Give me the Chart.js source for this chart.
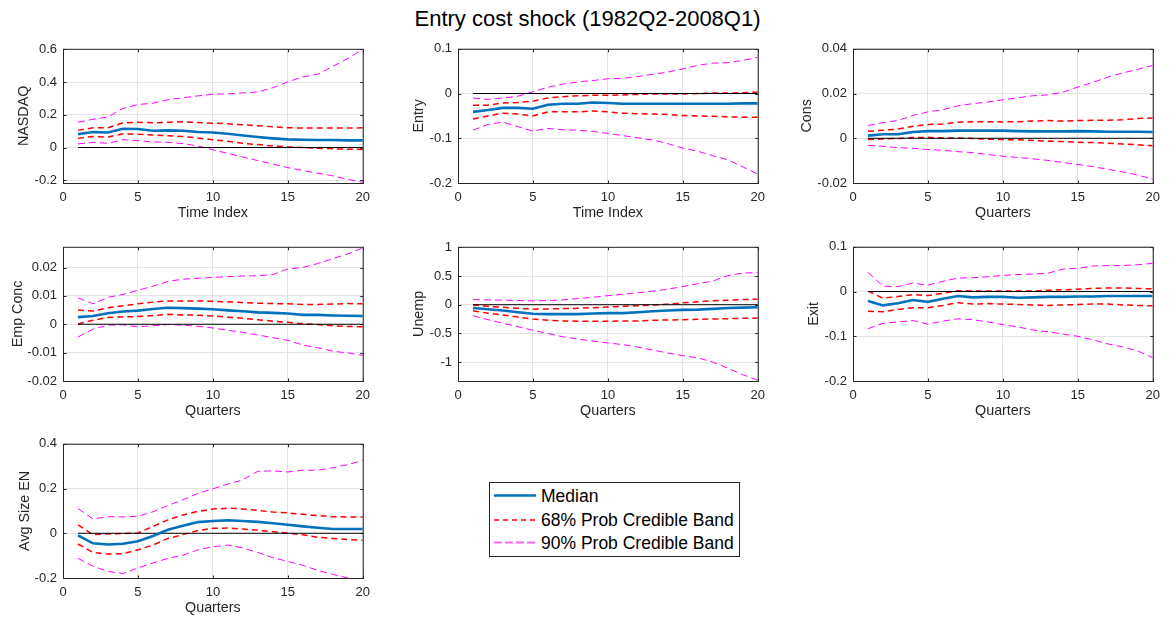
<!DOCTYPE html>
<html>
<head>
<meta charset="utf-8">
<script src="https://cdn.jsdelivr.net/npm/chart.js@4/dist/chart.umd.min.js"></script>
<style>
  html, body { margin: 0; padding: 0; background: #fff; }
  body { width: 1171px; height: 622px; position: relative; overflow: hidden; font-family: "Liberation Sans", Arial, Helvetica, sans-serif; }
  #title { position: absolute; left: 0; width: 1175px; top: 6px; text-align: center; font-size: 22px; line-height: 26px; color: #000; }
  canvas { position: absolute; }
  #legend { position: absolute; left: 489px; top: 482px; width: 249px; height: 73px; border: 1px solid #262626; background: #fff; }
  .row { position: absolute; left: 4px; height: 23px; font-size: 17.5px; line-height: 23px; white-space: nowrap; color: #000; }
  .row svg { position: absolute; left: 0; top: 0; }
  .row span { position: absolute; left: 47px; }
</style>
</head>
<body>
<div id="title">Entry cost shock (1982Q2-2008Q1)</div>
<div id="legend">
  <div class="row" style="top:2px"><svg width="43" height="23"><line x1="0" y1="10.5" x2="42" y2="10.5" stroke="#0072BD" stroke-width="2.5"/></svg><span>Median</span></div>
  <div class="row" style="top:25.5px"><svg width="43" height="23"><line x1="0" y1="11" x2="42" y2="11" style="stroke:rgb(255,0,0);stroke-width:1.5px;stroke-dasharray:5px 4px"/></svg><span>68% Prob Credible Band</span></div>
  <div class="row" style="top:48.5px"><svg width="43" height="23"><line x1="0" y1="10.5" x2="42" y2="10.5" style="stroke:rgb(255,102,255);stroke-width:2px;stroke-dasharray:8px 3px"/></svg><span>90% Prob Credible Band</span></div>
</div>
<script>
// data (impulse responses, horizon 1..20)
const quarters = [1,2,3,4,5,6,7,8,9,10,11,12,13,14,15,16,17,18,19,20];
const zeroLine = [0,0,0,0,0,0,0,0,0,0,0,0,0,0,0,0,0,0,0,0];
const xTicks = [0, 5, 10, 15, 20];

const nasdaqMed  = [0.082,0.095,0.092,0.115,0.113,0.103,0.105,0.103,0.095,0.092,0.084,0.074,0.064,0.056,0.050,0.048,0.046,0.046,0.044,0.044];
const nasdaqHi68 = [0.105,0.121,0.121,0.151,0.155,0.151,0.155,0.157,0.153,0.149,0.145,0.139,0.133,0.127,0.121,0.119,0.119,0.119,0.119,0.121];
const nasdaqLo68 = [0.056,0.068,0.064,0.084,0.082,0.076,0.072,0.068,0.058,0.048,0.038,0.026,0.018,0.010,0.004,0.000,-0.004,-0.008,-0.010,-0.012];
const nasdaqHi90 = [0.155,0.173,0.187,0.239,0.263,0.271,0.293,0.304,0.316,0.326,0.328,0.334,0.340,0.366,0.402,0.432,0.448,0.496,0.545,0.601];
const nasdaqLo90 = [0.022,0.032,0.026,0.048,0.042,0.034,0.032,0.024,0.010,-0.014,-0.036,-0.058,-0.080,-0.101,-0.123,-0.141,-0.157,-0.173,-0.195,-0.213];
const nasdaqTicks = [-0.2, 0, 0.2, 0.4, 0.6];

const entryMed  = [-0.041,-0.037,-0.032,-0.032,-0.034,-0.025,-0.023,-0.023,-0.020,-0.021,-0.023,-0.023,-0.023,-0.023,-0.023,-0.023,-0.023,-0.023,-0.022,-0.022];
const entryHi68 = [-0.026,-0.026,-0.021,-0.020,-0.017,-0.010,-0.007,-0.005,-0.004,-0.004,-0.003,-0.002,-0.001,-0.001,-0.001,0.000,0.001,0.001,0.002,0.003];
const entryLo68 = [-0.057,-0.050,-0.044,-0.046,-0.050,-0.041,-0.041,-0.041,-0.039,-0.041,-0.044,-0.045,-0.046,-0.047,-0.049,-0.050,-0.051,-0.052,-0.053,-0.053];
const entryHi90 = [-0.010,-0.013,-0.010,-0.006,0.004,0.014,0.021,0.026,0.029,0.033,0.034,0.038,0.043,0.048,0.055,0.063,0.068,0.069,0.074,0.081];
const entryLo90 = [-0.082,-0.069,-0.064,-0.074,-0.084,-0.078,-0.081,-0.082,-0.085,-0.089,-0.094,-0.099,-0.104,-0.112,-0.122,-0.129,-0.139,-0.148,-0.164,-0.180];
const entryTicks = [-0.2, -0.1, 0, 0.1];

const consMed  = [0.0012,0.0018,0.0018,0.0028,0.0032,0.0032,0.0034,0.0035,0.0034,0.0034,0.0032,0.0031,0.0031,0.0031,0.0032,0.0031,0.0029,0.0029,0.0029,0.0028];
const consHi68 = [0.0031,0.0036,0.0041,0.0054,0.0061,0.0064,0.0072,0.0074,0.0074,0.0073,0.0074,0.0077,0.0079,0.0077,0.0079,0.0080,0.0080,0.0083,0.0088,0.0091];
const consLo68 = [-0.0006,-0.0003,-0.0001,0.0003,0.0004,0.0001,0.0001,-0.0001,-0.0004,-0.0006,-0.0007,-0.0010,-0.0013,-0.0015,-0.0018,-0.0019,-0.0022,-0.0026,-0.0029,-0.0034];
const consHi90 = [0.0057,0.0070,0.0080,0.0102,0.0118,0.0128,0.0145,0.0155,0.0162,0.0172,0.0181,0.0190,0.0194,0.0206,0.0229,0.0250,0.0273,0.0292,0.0308,0.0326];
const consLo90 = [-0.0032,-0.0036,-0.0042,-0.0045,-0.0050,-0.0054,-0.0060,-0.0064,-0.0073,-0.0080,-0.0086,-0.0092,-0.0099,-0.0108,-0.0117,-0.0127,-0.0139,-0.0150,-0.0165,-0.0182];
const consTicks = [-0.02, 0, 0.02, 0.04];

const empMed  = [0.0025,0.0029,0.0039,0.0045,0.0048,0.0054,0.0058,0.0057,0.0055,0.0053,0.0049,0.0046,0.0042,0.0040,0.0038,0.0033,0.0033,0.0031,0.0030,0.0029];
const empHi68 = [0.0050,0.0047,0.0058,0.0065,0.0072,0.0078,0.0082,0.0082,0.0082,0.0081,0.0079,0.0077,0.0074,0.0073,0.0072,0.0070,0.0070,0.0071,0.0073,0.0072];
const empLo68 = [0.0001,0.0014,0.0024,0.0026,0.0027,0.0031,0.0035,0.0033,0.0032,0.0029,0.0025,0.0021,0.0016,0.0011,0.0007,0.0002,-0.0001,-0.0005,-0.0008,-0.0009];
const empHi90 = [0.0093,0.0072,0.0095,0.0105,0.0120,0.0134,0.0151,0.0159,0.0162,0.0165,0.0168,0.0170,0.0171,0.0175,0.0195,0.0200,0.0214,0.0231,0.0248,0.0269];
const empLo90 = [-0.0045,-0.0017,-0.0003,-0.0002,-0.0009,-0.0005,-0.0001,-0.0003,-0.0007,-0.0013,-0.0021,-0.0029,-0.0038,-0.0047,-0.0057,-0.0073,-0.0083,-0.0095,-0.0101,-0.0110];
const empTicks = [-0.02, -0.01, 0, 0.01, 0.02];

const unempMed  = [-0.056,-0.079,-0.102,-0.130,-0.158,-0.164,-0.164,-0.164,-0.153,-0.147,-0.147,-0.130,-0.113,-0.102,-0.090,-0.085,-0.073,-0.056,-0.051,-0.045];
const unempHi68 = [-0.006,-0.028,-0.045,-0.062,-0.079,-0.073,-0.068,-0.062,-0.051,-0.040,-0.028,-0.017,-0.006,0.011,0.034,0.051,0.068,0.079,0.090,0.096];
const unempLo68 = [-0.107,-0.147,-0.181,-0.215,-0.249,-0.271,-0.282,-0.288,-0.288,-0.288,-0.282,-0.282,-0.271,-0.266,-0.260,-0.254,-0.249,-0.243,-0.237,-0.232];
const unempHi90 = [0.090,0.085,0.079,0.073,0.068,0.073,0.085,0.107,0.130,0.158,0.181,0.209,0.237,0.271,0.316,0.367,0.412,0.508,0.554,0.559];
const unempLo90 = [-0.192,-0.260,-0.322,-0.384,-0.446,-0.503,-0.559,-0.599,-0.633,-0.667,-0.695,-0.740,-0.791,-0.842,-0.887,-0.927,-1.000,-1.107,-1.220,-1.316];
const unempTicks = [-1, -0.5, 0, 0.5, 1];

const exitMed  = [-0.021,-0.031,-0.026,-0.019,-0.023,-0.016,-0.010,-0.013,-0.012,-0.012,-0.014,-0.013,-0.012,-0.012,-0.011,-0.011,-0.010,-0.010,-0.010,-0.010];
const exitHi68 = [0.001,-0.015,-0.011,-0.007,-0.009,-0.004,0.002,0.001,0.001,0.001,0.001,0.001,0.003,0.004,0.005,0.007,0.008,0.008,0.007,0.006];
const exitLo68 = [-0.044,-0.045,-0.040,-0.036,-0.036,-0.031,-0.025,-0.028,-0.027,-0.028,-0.029,-0.030,-0.031,-0.030,-0.029,-0.028,-0.028,-0.030,-0.031,-0.032];
const exitHi90 = [0.043,0.012,0.011,0.019,0.014,0.023,0.030,0.031,0.033,0.036,0.038,0.039,0.041,0.050,0.052,0.057,0.058,0.058,0.060,0.063];
const exitLo90 = [-0.083,-0.071,-0.068,-0.065,-0.073,-0.066,-0.061,-0.063,-0.068,-0.074,-0.079,-0.086,-0.090,-0.095,-0.100,-0.108,-0.117,-0.124,-0.133,-0.148];
const exitTicks = [-0.2, -0.1, 0, 0.1];

const avgMed  = [-0.009,-0.045,-0.050,-0.047,-0.036,-0.012,0.016,0.034,0.050,0.055,0.058,0.055,0.051,0.045,0.038,0.031,0.025,0.019,0.019,0.019];
const avgHi68 = [0.038,-0.006,-0.003,-0.001,0.001,0.031,0.060,0.082,0.098,0.108,0.112,0.109,0.102,0.095,0.091,0.085,0.079,0.074,0.073,0.073];
const avgLo68 = [-0.048,-0.086,-0.093,-0.091,-0.074,-0.053,-0.023,-0.006,0.012,0.022,0.023,0.019,0.013,0.007,0.001,-0.007,-0.018,-0.023,-0.028,-0.031];
const avgHi90 = [0.111,0.064,0.074,0.073,0.076,0.096,0.124,0.150,0.178,0.199,0.220,0.239,0.277,0.279,0.274,0.282,0.282,0.293,0.307,0.326];
const avgLo90 = [-0.112,-0.147,-0.171,-0.180,-0.155,-0.133,-0.112,-0.098,-0.074,-0.060,-0.053,-0.066,-0.086,-0.109,-0.126,-0.143,-0.166,-0.184,-0.200,-0.207];
const avgTicks = [-0.2, 0, 0.2, 0.4];

const FONT = '"Liberation Sans", Arial, Helvetica, sans-serif';
const INK = '#262626';
const GRID = '#e3e3e3';
const PLOT_W = 300;
const PLOT_H = 138;
const AXIS_W = 62;   // room left of the plot box for tick labels + y title
const AXIS_H = 44;   // room below the plot box

// box with inward tick marks, matlab style
const frame = {
  id: 'frame',
  beforeDatasetsDraw(chart) {
    const { ctx, chartArea: a, scales } = chart;
    const L = a.left + 0.5, R = a.right + 0.5, T = a.top + 0.5, B = a.bottom + 0.5;
    ctx.save();
    ctx.strokeStyle = INK;
    ctx.lineWidth = 1;
    ctx.strokeRect(L, T, R - L, B - T);
    ctx.beginPath();
    scales.x.ticks.forEach(t => {
      const px = Math.round(scales.x.getPixelForValue(t.value)) + 0.5;
      ctx.moveTo(px, B); ctx.lineTo(px, B - 3);
      ctx.moveTo(px, T); ctx.lineTo(px, T + 3);
    });
    scales.y.ticks.forEach(t => {
      const py = Math.round(scales.y.getPixelForValue(t.value)) + 0.5;
      ctx.moveTo(L, py); ctx.lineTo(L + 3, py);
      ctx.moveTo(R, py); ctx.lineTo(R - 3, py);
    });
    ctx.stroke();
    ctx.restore();
  }
};

function series(vals, color, width, dash, order) {
  return {
    data: vals.map((v, i) => ({ x: quarters[i], y: v })),
    borderColor: color,
    borderWidth: width,
    borderDash: dash,
    pointRadius: 0,
    tension: 0,
    fill: false,
    order: order
  };
}

function makePanel(p) {
  const cv = document.createElement('canvas');
  cv.width = AXIS_W + PLOT_W + 14;
  cv.height = 10 + PLOT_H + AXIS_H;
  cv.style.left = (p.left - AXIS_W) + 'px';
  cv.style.top = (p.top - 10) + 'px';
  document.body.appendChild(cv);

  new Chart(cv, {
    type: 'line',
    data: {
      datasets: [
        series(p.med, '#0072BD', 2.6, [], 0),
        series(zeroLine, '#000000', 1, [], 1),
        series(p.hi68, '#FF0000', 1.5, [6, 4], 2),
        series(p.lo68, '#FF0000', 1.5, [6, 4], 2),
        series(p.hi90, '#FF00FF', 1, [7, 4], 3),
        series(p.lo90, '#FF00FF', 1, [7, 4], 3)
      ]
    },
    options: {
      responsive: false,
      animation: false,
      events: [],
      layout: { padding: { top: 10, right: 14, left: 0, bottom: 0 } },
      plugins: { legend: { display: false }, tooltip: { enabled: false } },
      scales: {
        x: {
          type: 'linear',
          min: 0, max: 20,
          afterBuildTicks: s => { s.ticks = xTicks.map(v => ({ value: v })); },
          afterFit: s => { s.height = AXIS_H; },
          grid: { color: GRID, drawTicks: false },
          border: { display: false },
          ticks: { color: INK, font: { family: FONT, size: 13 }, padding: 7, maxRotation: 0, autoSkip: false, callback: v => String(v) },
          title: { display: true, text: p.xlabel, color: INK, font: { family: FONT, size: 14.3 }, padding: { top: 0, bottom: 5 } }
        },
        y: {
          type: 'linear',
          min: p.ymin, max: p.ymax,
          afterBuildTicks: s => { s.ticks = p.yticks.map(v => ({ value: v })); },
          afterFit: s => { s.width = AXIS_W; },
          grid: { color: GRID, drawTicks: false },
          border: { display: false },
          ticks: { color: INK, font: { family: FONT, size: 13 }, padding: 6, autoSkip: false, callback: v => String(+v.toFixed(4)) },
          title: { display: true, text: p.ylabel, color: INK, font: { family: FONT, size: 14.3 }, padding: { top: p.titlePad, bottom: 0 } }
        }
      }
    },
    plugins: [frame]
  });
}

const panels = [
  { left: 63,  top: 45,  xlabel: 'Time Index', ylabel: 'NASDAQ',      ymin: -0.217, ymax: 0.604,  yticks: nasdaqTicks, titlePad: 14.7,
    med: nasdaqMed, hi68: nasdaqHi68, lo68: nasdaqLo68, hi90: nasdaqHi90, lo90: nasdaqLo90 },
  { left: 458, top: 45,  xlabel: 'Time Index', ylabel: 'Entry',       ymin: -0.2,   ymax: 0.1,    yticks: entryTicks, titlePad: 14.1,
    med: entryMed, hi68: entryHi68, lo68: entryLo68, hi90: entryHi90, lo90: entryLo90 },
  { left: 853, top: 45,  xlabel: 'Quarters',   ylabel: 'Cons',        ymin: -0.02,  ymax: 0.04,   yticks: consTicks, titlePad: 7.6,
    med: consMed, hi68: consHi68, lo68: consLo68, hi90: consHi90, lo90: consLo90 },
  { left: 63,  top: 243, xlabel: 'Quarters',   ylabel: 'Emp Conc',    ymin: -0.02,  ymax: 0.0273, yticks: empTicks, titlePad: 8,
    med: empMed, hi68: empHi68, lo68: empLo68, hi90: empHi90, lo90: empLo90 },
  { left: 458, top: 243, xlabel: 'Quarters',   ylabel: 'Unemp',       ymin: -1.33,  ymax: 1.01,   yticks: unempTicks, titlePad: 14.1,
    med: unempMed, hi68: unempHi68, lo68: unempLo68, hi90: unempHi90, lo90: unempLo90 },
  { left: 853, top: 243, xlabel: 'Quarters',   ylabel: 'Exit',        ymin: -0.2,   ymax: 0.1,    yticks: exitTicks, titlePad: 14.1,
    med: exitMed, hi68: exitHi68, lo68: exitLo68, hi90: exitHi90, lo90: exitLo90 },
  { left: 63,  top: 440, xlabel: 'Quarters',   ylabel: 'Avg Size EN', ymin: -0.2,   ymax: 0.4,    yticks: avgTicks, titlePad: 15.7,
    med: avgMed, hi68: avgHi68, lo68: avgLo68, hi90: avgHi90, lo90: avgLo90 }
];

panels.forEach(makePanel);
</script>
</body>
</html>
